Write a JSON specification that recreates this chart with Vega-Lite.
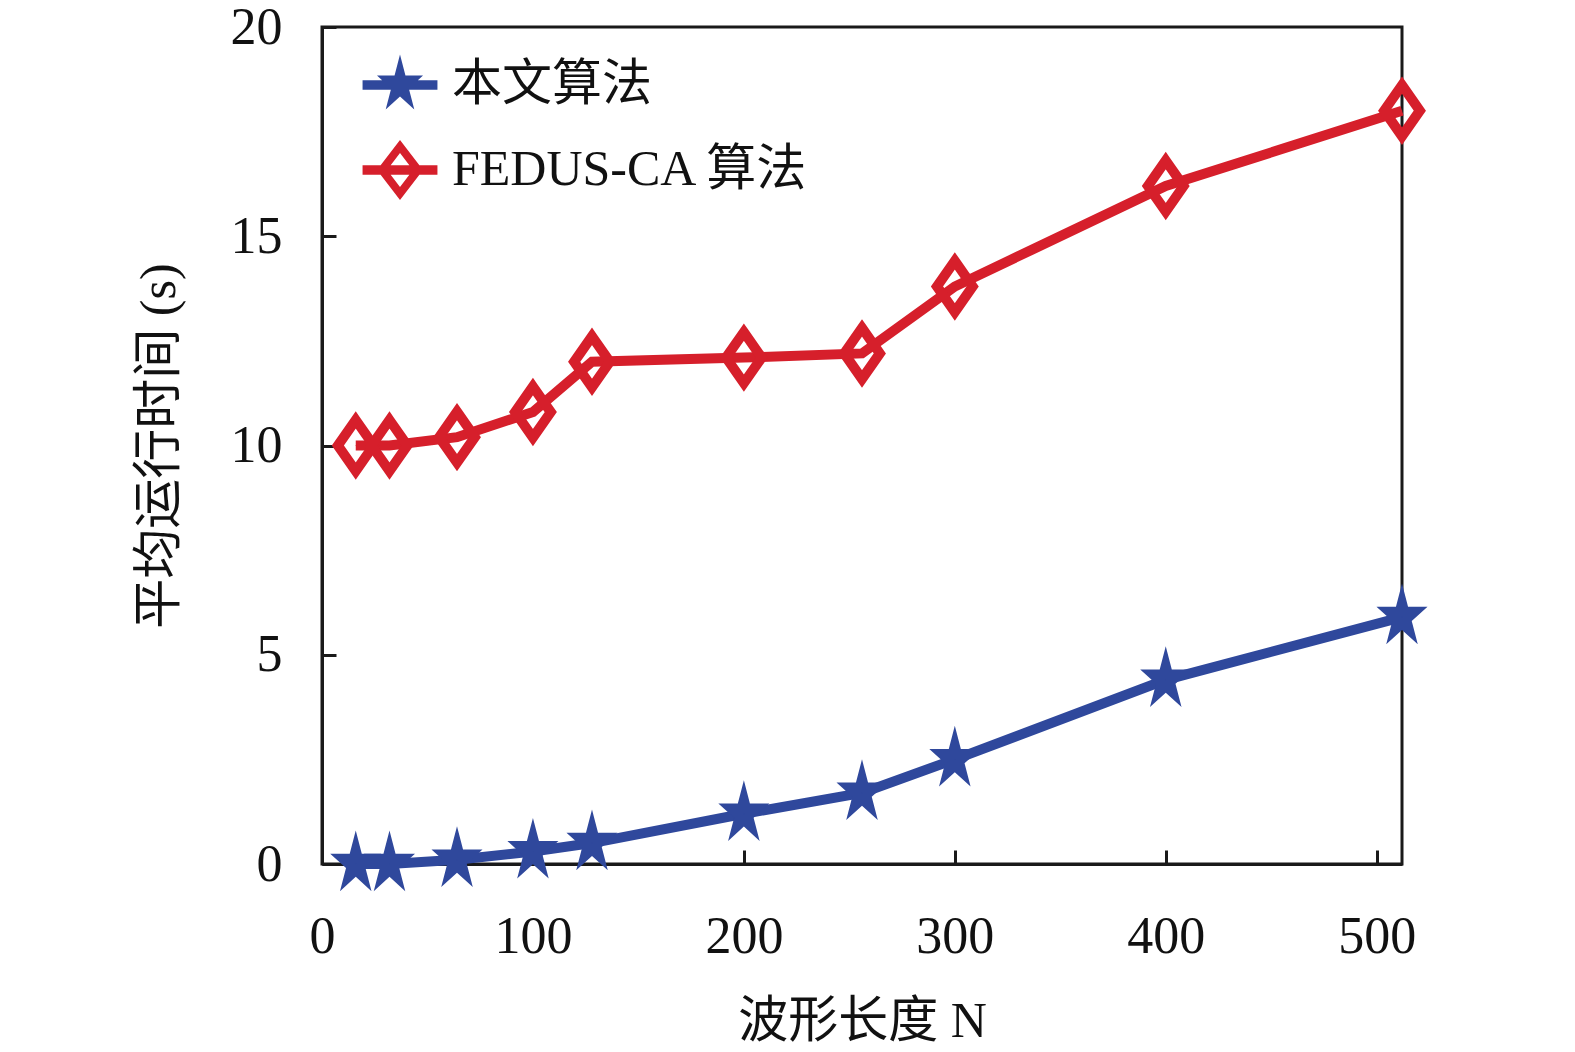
{
  "$schema": "https://vega.github.io/schema/vega-lite/v6.json",
  "width": 1080,
  "height": 837,
  "autosize": {"type": "none"},
  "padding": {"left": 322, "top": 27, "right": 173, "bottom": 188},
  "background": "white",
  "config": {
    "view": {"stroke": "#1a1a1a", "strokeWidth": 3},
    "font": "Liberation Serif, Noto Sans CJK SC",
    "axis": {
      "labelFont": "Liberation Serif",
      "labelFontSize": 52,
      "labelColor": "#111",
      "labelFlush": false,
      "titleFont": "Liberation Serif, Noto Sans CJK SC",
      "titleFontSize": 50,
      "titleFontWeight": "normal",
      "titleColor": "#111",
      "domainColor": "#1a1a1a",
      "domainWidth": 3,
      "tickColor": "#1a1a1a",
      "tickWidth": 3,
      "tickSize": -14,
      "grid": false
    },
    "legend": {
      "labelFont": "Liberation Serif, Noto Sans CJK SC",
      "labelFontSize": 50,
      "labelColor": "#111",
      "labelLimit": 600,
      "symbolSize": 4096,
      "symbolOpacity": 1,
      "symbolStrokeWidth": 0
    }
  },
  "data": {
    "values": [
      {"N": 16, "t": 0.0, "series": "本文算法"},
      {"N": 32, "t": 0.0, "series": "本文算法"},
      {"N": 64, "t": 0.1, "series": "本文算法"},
      {"N": 100, "t": 0.3, "series": "本文算法"},
      {"N": 128, "t": 0.5, "series": "本文算法"},
      {"N": 200, "t": 1.2, "series": "本文算法"},
      {"N": 256, "t": 1.7, "series": "本文算法"},
      {"N": 300, "t": 2.5, "series": "本文算法"},
      {"N": 400, "t": 4.4, "series": "本文算法"},
      {"N": 512, "t": 5.9, "series": "本文算法"},
      {"N": 16, "t": 10.0, "series": "FEDUS-CA 算法"},
      {"N": 32, "t": 10.0, "series": "FEDUS-CA 算法"},
      {"N": 64, "t": 10.2, "series": "FEDUS-CA 算法"},
      {"N": 100, "t": 10.8, "series": "FEDUS-CA 算法"},
      {"N": 128, "t": 12.0, "series": "FEDUS-CA 算法"},
      {"N": 200, "t": 12.1, "series": "FEDUS-CA 算法"},
      {"N": 256, "t": 12.2, "series": "FEDUS-CA 算法"},
      {"N": 300, "t": 13.8, "series": "FEDUS-CA 算法"},
      {"N": 400, "t": 16.2, "series": "FEDUS-CA 算法"},
      {"N": 512, "t": 18.0, "series": "FEDUS-CA 算法"}
    ]
  },
  "encoding": {
    "x": {
      "field": "N",
      "type": "quantitative",
      "scale": {"domain": [0, 512], "nice": false},
      "axis": {
        "values": [0, 100, 200, 300, 400, 500],
        "labelPadding": 61,
        "title": "波形长度 N",
        "titlePadding": 34
      }
    },
    "y": {
      "field": "t",
      "type": "quantitative",
      "scale": {"domain": [0, 20], "nice": false},
      "axis": {
        "values": [0, 5, 10, 15, 20],
        "labelPadding": 54,
        "title": "平均运行时间 (s)",
        "titlePadding": 46
      }
    }
  },
  "layer": [
    {
      "transform": [{"filter": "datum.series === '本文算法'"}],
      "mark": {"type": "line", "strokeWidth": 10, "color": "#2f489c"}
    },
    {
      "transform": [{"filter": "datum.series === 'FEDUS-CA 算法'"}],
      "mark": {"type": "line", "strokeWidth": 10, "color": "#d61f2b"}
    },
    {
      "transform": [{"filter": "datum.series === '本文算法'"}],
      "mark": {
        "type": "point",
        "filled": true,
        "opacity": 1,
        "color": "#2f489c",
        "size": 4500,
        "shape": "M0,-1L0.18,-0.309L0.761,-0.309L0.29,0.118L0.47,0.809L0,0.382L-0.47,0.809L-0.29,0.118L-0.761,-0.309L-0.18,-0.309Z"
      }
    },
    {
      "transform": [{"filter": "datum.series === 'FEDUS-CA 算法'"}],
      "mark": {
        "type": "point",
        "filled": false,
        "opacity": 1,
        "color": "#d61f2b",
        "size": 2600,
        "strokeWidth": 10,
        "shape": "M0,-1L0.7,0L0,1L-0.7,0Z"
      }
    },
    {
      "mark": {"type": "point", "filled": true, "opacity": 1, "size": 1},
      "encoding": {
        "shape": {
          "field": "series",
          "type": "nominal",
          "scale": {
            "domain": ["本文算法", "FEDUS-CA 算法"],
            "range": [
              "M0,-0.95L0.17,-0.294L0.72,-0.294L0.276,0.112L0.447,0.769L0,0.363L-0.447,0.769L-0.276,0.112L-0.72,-0.294L-0.17,-0.294ZM-1.17,-0.15L1.17,-0.15L1.17,0.15L-1.17,0.15Z",
              "M0,-0.94L0.72,0L0,0.94L-0.72,0ZM0,-0.53L-0.405,0L0,0.53L0.405,0ZM-1.17,-0.15L1.17,-0.15L1.17,0.15L-1.17,0.15Z"
            ]
          },
          "legend": {
            "title": null,
            "orient": "none",
            "legendX": 46,
            "legendY": 26,
            "symbolSize": 4096,
            "symbolOpacity": 1,
            "labelOffset": 20,
            "rowPadding": 28
          }
        },
        "color": {
          "field": "series",
          "type": "nominal",
          "scale": {"domain": ["本文算法", "FEDUS-CA 算法"], "range": ["#2f489c", "#d61f2b"]},
          "legend": {
            "title": null,
            "orient": "none",
            "legendX": 46,
            "legendY": 26,
            "symbolSize": 4096,
            "symbolOpacity": 1,
            "labelOffset": 20,
            "rowPadding": 28
          }
        }
      }
    }
  ]
}
